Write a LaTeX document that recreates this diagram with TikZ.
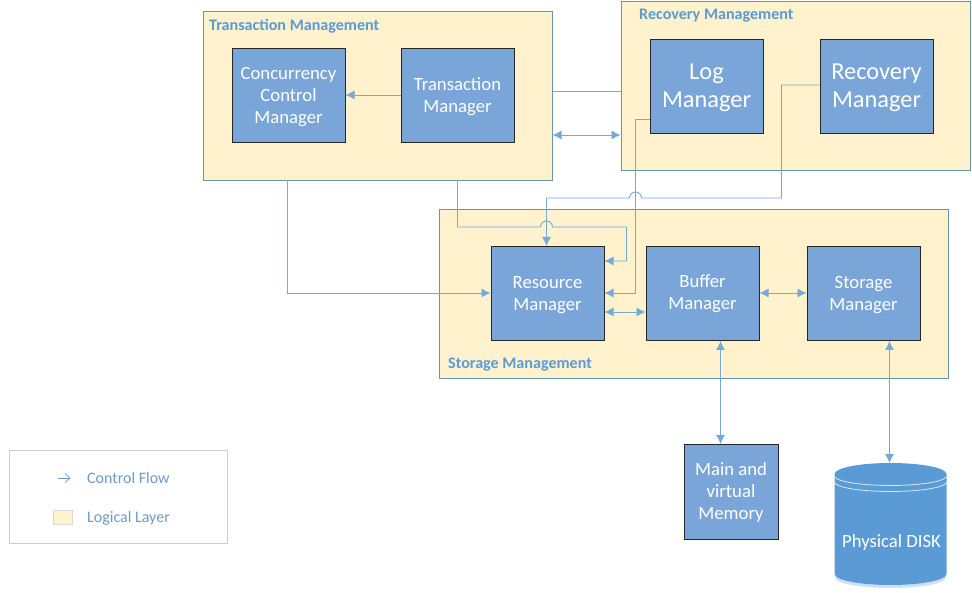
\documentclass[tikz,border=0pt]{standalone}
\usepackage{fontspec}
\setmainfont{Carlito}
\usetikzlibrary{arrows.meta,calc,shapes.geometric}
\definecolor{flow}{HTML}{5B9BD5}
\definecolor{boxfill}{HTML}{7AA5D8}
\definecolor{layerfill}{HTML}{FFF2CC}
\definecolor{layerline}{HTML}{6A93AC}
\definecolor{disk}{HTML}{5B9BD5}
\definecolor{legendtext}{HTML}{6F9BC8}
\newcommand\lowered[2][1.5pt]{\raisebox{-#1}[\height][\depth]{\begin{tabular}{@{}c@{}}#2\end{tabular}}}
\tikzset{
  layer/.style={draw=layerline,fill=layerfill,line width=1pt,minimum width=#1,anchor=north west,inner sep=0pt},
  comp/.style={draw=black!85,fill=boxfill,line width=1pt,text=white,inner sep=0pt,anchor=north west,minimum width=113pt,minimum height=94pt},
  small/.style={font=\fontsize{18.7}{22}\selectfont},
  big/.style={font=\fontsize{24.4}{28}\selectfont},
  layertitle/.style={font=\fontsize{16.1}{18}\selectfont\bfseries,text=flow,anchor=west,inner sep=0pt},
  flowline/.style={draw=flow!85,line width=.9pt},
  flowarrow/.style={flowline,-{Latex[length=9pt,width=9pt]}},
  flowboth/.style={flowline,{Latex[length=9pt,width=9pt]}-{Latex[length=9pt,width=9pt]}},
  legendlabel/.style={font=\fontsize{16}{18}\selectfont,text=legendtext,anchor=west,inner sep=0pt},
}
\begin{document}
\begin{tikzpicture}[x=1pt,y=-1pt]
\useasboundingbox (0.5,0) rectangle (972.5,593);
% layers
\node[layer=349pt,minimum height=169pt] (tl) at (203,11) {};
\node[layer=349.5pt,minimum height=169pt] (rl) at (621,1) {};
\node[layer=509pt,minimum height=169pt] (sl) at (439,209) {};
\node[layertitle] (tlt) at (209.5,26) {Transaction Management};
\node[layertitle] (rlt) at (639.5,15.5) {Recovery Management};
\node[layertitle] (slt) at (448.5,365) {Storage Management};
% components
\node[comp,small] (cc) at (232,48) {\lowered{Concurrency\\Control\\Manager}};
\node[comp,small] (tm) at (401,48) {\lowered{Transaction\\Manager}};
\node[comp,big] (lm) at (650,39) {\lowered{Log\\Manager}};
\node[comp,big] (rm) at (820,39) {\lowered{Recovery\\Manager}};
\node[comp,small] (res) at (491,246) {\lowered{Resource\\Manager}};
\node[comp,small] (buf) at (646,246) {\lowered[1pt]{Buffer\\Manager}};
\node[comp,small] (sm) at (807,246) {\lowered{Storage\\Manager}};
\node[comp,small,minimum width=94pt,minimum height=95pt] (mem) at (684,444) {\lowered[1pt]{Main and\\virtual\\Memory}};
% disk
\fill[disk!30] (836,476) -- (836,578) arc[start angle=180,end angle=0,x radius=55,y radius=10] -- (946,476) -- cycle;
\path[fill=disk] (835,474) arc[start angle=180,end angle=360,x radius=56,y radius=11] -- (947,574) arc[start angle=0,end angle=180,x radius=56,y radius=11] -- cycle;
\draw[white!75!disk,line width=.8pt] (835,476) arc[start angle=180,end angle=0,x radius=56,y radius=9.5];
\draw[white!75!disk,line width=.8pt] (835,482) arc[start angle=180,end angle=0,x radius=56,y radius=9.5];
\node[text=white,font=\fontsize{18.7}{20}\selectfont,inner sep=0pt] (dl) at (892,542.5) {Physical DISK};
\coordinate (dtop) at (890,463);
% connectors
\draw[flowarrow] (tm.west |- 0,95) -- (cc.east |- 0,95);
\draw[flowline] (tl.east |- 0,91) -- (rl.west |- 0,91);
\draw[flowboth] (tl.east |- 0,135) -- (rl.west |- 0,135);
\draw[flowarrow] (288,180) -- (288,293) -- (res.west |- 0,293);
\draw[flowarrow] (lm.west |- 0,119) -- (636,119) -- (636,293) -- (res.east |- 0,293);
\draw[flowarrow] (rm.west |- 0,85) -- (782,85) -- (782,198) -- (642,198) arc[start angle=0,end angle=-180,radius=6] -- (547,198) -- (res.north -| 547,0);
\draw[flowarrow] (458,180) -- (458,227) -- (541,227) arc[start angle=180,end angle=360,radius=6] -- (627,227) -- (627,261) -- (res.east |- 0,261);
\draw[flowboth] (res.east |- 0,312) -- (buf.west |- 0,312);
\draw[flowboth] (buf.east |- 0,293) -- (sm.west |- 0,293);
\draw[flowboth] (buf.south -| 721,0) -- (mem.north -| 721,0);
\draw[flowboth] (sm.south -| 890,0) -- (dtop);
% legend
\node[draw=black!20,fill=white,line width=1pt,minimum width=218pt,minimum height=93pt,anchor=north west,inner sep=0pt] (leg) at (9,450) {};
\coordinate (la) at (58,478);
\coordinate (lb) at (71,478);
\draw[legendtext,line width=.7pt,-{Straight Barb[length=5pt,width=9pt]}] (la) -- (lb);
\node[legendlabel] (lt1) at (87.5,478.5) {Control Flow};
\node[draw=black!15,fill=layerfill,line width=1pt,minimum width=19pt,minimum height=14pt,inner sep=0pt] (lsw) at (63.5,517) {};
\node[legendlabel] (lt2) at (87.5,518.5) {Logical Layer};
\end{tikzpicture}
\end{document}
